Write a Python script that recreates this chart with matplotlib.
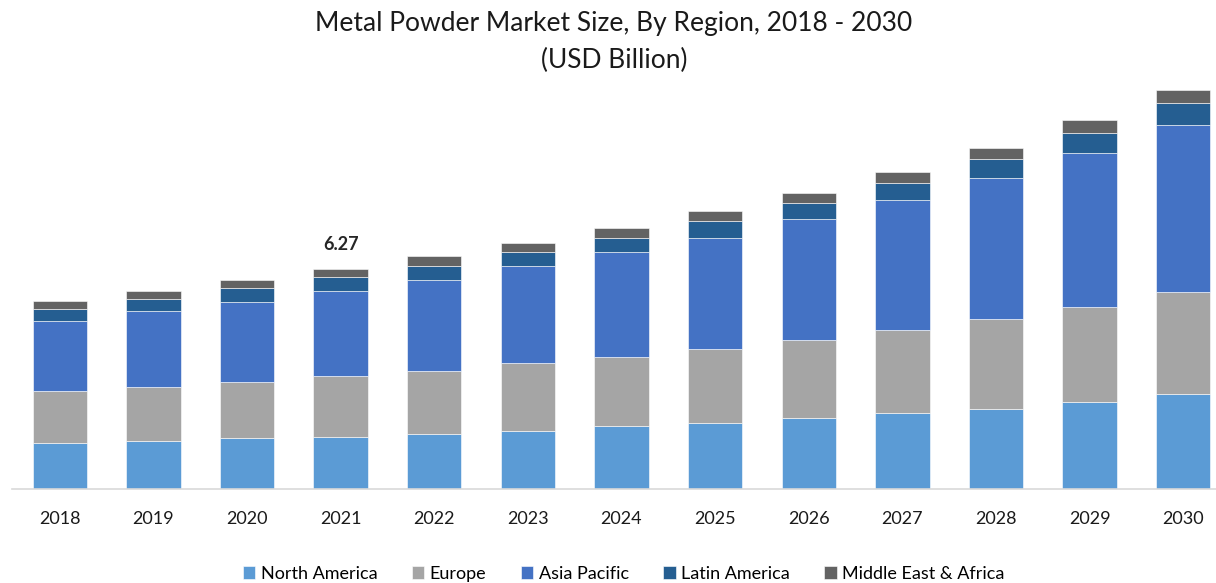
import numpy as np
from matplotlib import pyplot as plt

years = ['2018', '2019', '2020', '2021', '2022', '2023', '2024',
         '2025', '2026', '2027', '2028', '2029', '2030']

north_america = [1.31, 1.36, 1.45, 1.49, 1.58, 1.66, 1.80, 1.89, 2.02, 2.16, 2.29, 2.47, 2.70]
europe = [1.47, 1.56, 1.60, 1.74, 1.79, 1.92, 1.97, 2.09, 2.23, 2.37, 2.55, 2.72, 2.91]
asia_pacific = [2.01, 2.14, 2.27, 2.41, 2.59, 2.77, 2.99, 3.17, 3.44, 3.70, 4.02, 4.38, 4.77]
latin_america = [0.35, 0.36, 0.42, 0.40, 0.40, 0.40, 0.40, 0.49, 0.45, 0.49, 0.54, 0.59, 0.63]
mea = [0.23, 0.23, 0.22, 0.23, 0.27, 0.27, 0.27, 0.27, 0.30, 0.32, 0.31, 0.35, 0.36]

regions = ['North America', 'Europe', 'Asia Pacific', 'Latin America', 'Middle East & Africa']
colors = ['#5B9BD5', '#A5A5A5', '#4472C4', '#255E91', '#636363']
series = [north_america, europe, asia_pacific, latin_america, mea]

label_year = '2021'
label_text = '6.27'

plt.rcParams['font.family'] = ['Lato', 'DejaVu Sans']

fig = plt.figure(figsize=(12.16, 5.83), dpi=100)
ax = fig.add_axes([12/1216, 1 - 489/583, 1 - 12/1216, (489 - 85.5)/583])

x = np.arange(len(years))
bottom = np.zeros(len(years))
handles = []
for name, vals, c in zip(regions, series, colors):
    vals = np.array(vals)
    h = ax.bar(x, vals, 0.58, bottom=bottom, color=c, edgecolor='white', linewidth=0.4, label=name)
    handles.append(h)
    bottom += vals

i = years.index(label_year)
ax.text(x[i], bottom[i] + 0.45, label_text, ha='center', va='bottom',
        fontsize=13, fontweight='bold', color='#262626')

ax.set_xlim(-0.51, 12.35)
ax.set_ylim(0, 11.5)
ax.set_xticks(x)
ax.set_xticklabels(years, fontsize=13, color='#1a1a1a')
ax.tick_params(axis='x', length=0, pad=16)
ax.set_yticks([])
for s in ['top', 'right', 'left']:
    ax.spines[s].set_visible(False)
ax.spines['bottom'].set_color('#d9d9d9')
ax.spines['bottom'].set_linewidth(1.2)

fig.text(0.505, 1 - 24/583, 'Metal Powder Market Size, By Region, 2018 - 2030',
         ha='center', va='center', fontsize=19, color='#1a1a1a')
fig.text(0.505, 1 - 60/583, '(USD Billion)', ha='center', va='center',
         fontsize=19, color='#1a1a1a')

fig.legend(handles, regions, loc='center', bbox_to_anchor=(0.513, 1 - 574/583),
           ncol=5, frameon=False, fontsize=13, handlelength=0.7, handleheight=0.7,
           handletextpad=0.3, columnspacing=1.9)

fig.savefig('out.png', dpi=100)
